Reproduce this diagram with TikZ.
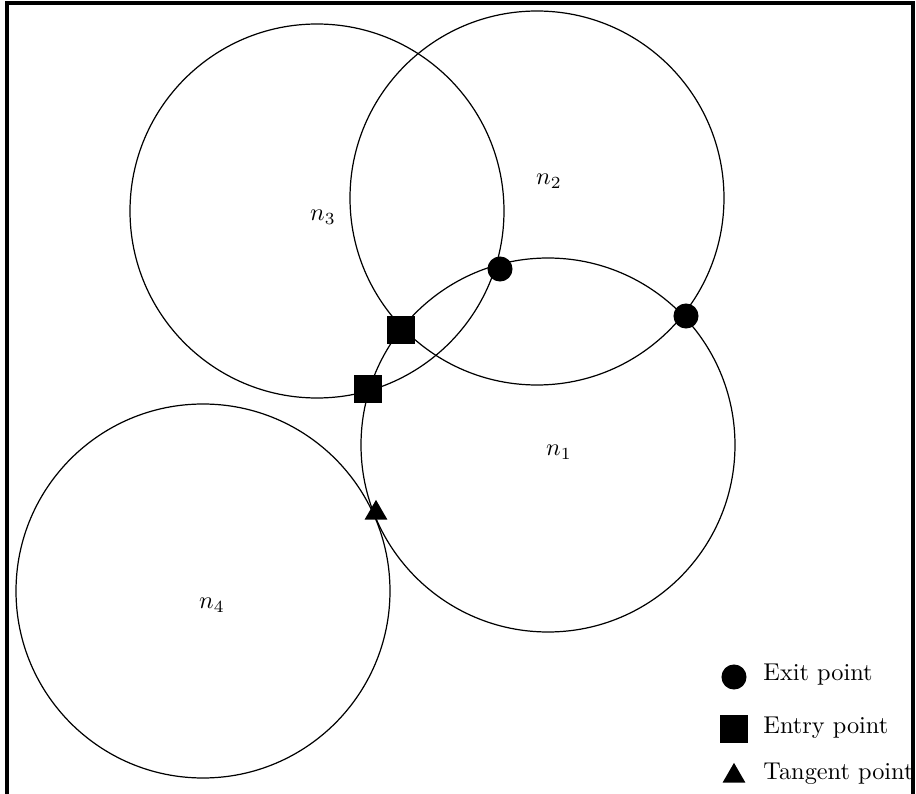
\documentclass[tikz,border=0pt]{standalone}
\usetikzlibrary{shapes.geometric}
\begin{document}
\begin{tikzpicture}[x=0.411pt,y=-0.411pt,
  zone/.style={draw,circle,line width=0.5pt,minimum size=374*0.411pt,inner sep=0pt},
  exitpt/.style={circle,fill=black,minimum size=10.3pt,inner sep=0pt},
  entrypt/.style={rectangle,fill=black,minimum size=11.1pt,inner sep=0pt},
  tanpt/.style={regular polygon,regular polygon sides=3,fill=black,minimum size=10.8pt,inner sep=0pt},
  lbl/.style={anchor=west,inner sep=0pt}]
\useasboundingbox (0,0) rectangle (916,794);
\draw[line width=1.3pt] (7,820) -- (7,3) -- (913,3) -- (913,820);
\node[zone] (n1) at (548,445) {};
\node[zone] (n2) at (537,198) {};
\node[zone] (n3) at (317,211) {};
\node[zone] (n4) at (203,591) {};
\node (l1) at (559,452) {$n_1$};
\node (l2) at (549,181) {$n_2$};
\node (l3) at (323,217) {$n_3$};
\node (l4) at (212,605) {$n_4$};
\node[exitpt] (x1) at (500,269) {};
\node[exitpt] (x2) at (686,316) {};
\node[entrypt] (e1) at (401,330) {};
\node[entrypt] (e2) at (368,389) {};
\node[tanpt] (t1) at (376,513) {};
\node[exitpt] (lgx) at (734,677) {};
\node[entrypt] (lge) at (734,729) {};
\node[tanpt] (lgt) at (734,776) {};
\node[lbl] (tx) at (763,675) {Exit point};
\node[lbl] (te) at (763,728) {Entry point};
\node[lbl] (tt) at (763,774) {Tangent point};
\end{tikzpicture}
\end{document}
